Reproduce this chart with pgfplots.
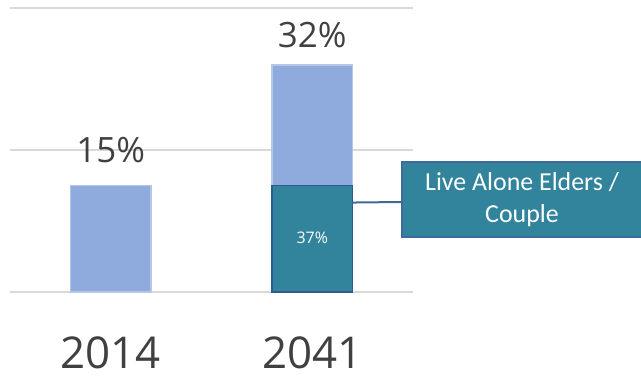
\documentclass[border=0pt]{standalone}
\usepackage{pgfplots}
\pgfplotsset{compat=1.18}
\usepackage{fontspec}
\setmainfont{Open Sans}
\newfontfamily\calib{Carlito}
\definecolor{barblue}{HTML}{8FAADC}
\definecolor{barblueedge}{HTML}{B4C7E7}
\definecolor{teal}{HTML}{31849B}
\definecolor{tealedge}{HTML}{2F5A8F}
\definecolor{boxedge}{HTML}{3F6A9A}
\definecolor{gridgray}{HTML}{D9D9D9}
\definecolor{txt}{HTML}{404040}
\begin{document}
\begin{tikzpicture}
\useasboundingbox (-10bp,-84bp) rectangle (631bp,292bp);
\begin{axis}[
  at={(0,0)}, anchor=south west,
  scale only axis, width=403bp, height=284bp,
  xmin=-0.5, xmax=1.5, ymin=0, ymax=40,
  axis line style={draw=none},
  tick style={draw=none},
  ytick={0,20,40}, yticklabels={},
  ymajorgrids, major grid style={gridgray, line width=1.6bp},
  xtick={0,1}, xticklabels={2014,2041},
  xticklabel style={font=\fontsize{44}{48}\selectfont, text=txt, inner sep=0pt, text depth=0pt, yshift=-45bp},
  clip=false,
]
\addplot[ybar, bar width=0.4, bar shift=0pt, fill=barblue, draw=barblueedge, line width=1.5bp]
  coordinates {(0,15) (1,32)};
\addplot[ybar, bar width=0.4, bar shift=0pt, fill=teal, draw=tealedge, line width=1.8bp]
  coordinates {(1,15)};
\node[text=txt, font=\fontsize{35}{40}\selectfont, anchor=base] at (axis cs:0,18.3) {15\%};
\node[text=txt, font=\fontsize{35}{40}\selectfont, anchor=base] at (axis cs:1,34.4) {32\%};
\node[text=white, font=\fontsize{16}{18}\selectfont] at (axis cs:1,7.7) {37\%};
\draw[boxedge, line width=2bp] (axis cs:1.2,12.6) -- (391bp,90bp);
\end{axis}
\node[draw=boxedge, line width=2bp, fill=teal, minimum width=240bp, minimum height=75bp,
  anchor=south west, inner sep=0pt, text=white, align=center,
  font=\calib\fontsize{26}{32}\selectfont] at (391bp,54bp) {Live Alone Elders /\\Couple};
\end{tikzpicture}
\end{document}
